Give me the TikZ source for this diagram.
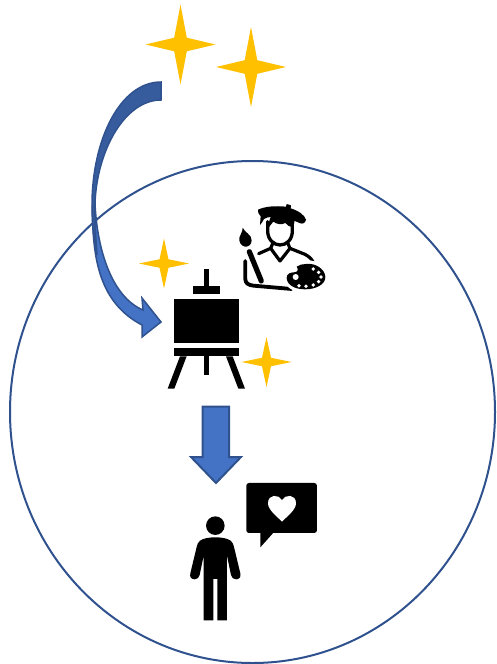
\documentclass[tikz,border=0pt]{standalone}
\definecolor{starY}{HTML}{FFC000}
\definecolor{blueF}{HTML}{4472C4}
\definecolor{blueD}{HTML}{375C9E}
\definecolor{blueL}{HTML}{2F528F}
\newcommand{\sparkleAt}[4]{\begin{scope}[shift={(#1,#2)},x=#3pt,y=#4pt]
\fill[starY] (-1,0) -- (-.18,-.17) -- (0,-1) -- (.18,-.17) -- (1,0) -- (.18,.17) -- (0,1) -- (-.18,.17) -- cycle;
\end{scope}}
\tikzset{
  arrowedge/.style={draw=blueL,line width=1.5pt,line join=miter},
  inkline/.style={draw=black,line cap=round,line join=round,fill=none},
  zoomA/.style={shift={(170,395)},x=.3333pt,y=-.3333pt},
  zoomB/.style={shift={(130,230)},x=.3333pt,y=-.3333pt},
  zoomC/.style={shift={(230,195)},x=.3333pt,y=-.3333pt}
}
\begin{document}
\begin{tikzpicture}[x=1pt,y=-1pt]
\useasboundingbox (0,0) rectangle (497,664);
% stars
\sparkleAt{180.5}{44.5}{35}{40}
\sparkleAt{251}{67}{35}{40}
\sparkleAt{164}{263.5}{25}{25}
\sparkleAt{266.5}{362}{25}{25}
% big circle
\draw[blueL,line width=2pt] (252.5,412) ellipse [x radius=242.5pt,y radius=251pt];
% curved arrow: light lower part, dark upper part
\path[fill=blueF,arrowedge]
 (92.5,205) .. controls (92,260) and (100,303) .. (142,325)
 -- (142,337) -- (161,322) -- (142,298) -- (143,310)
 .. controls (112,297) and (97,250) .. (95,203) -- cycle;
\path[fill=blueD,arrowedge]
 (161,82) .. controls (120,82) and (92,140) .. (92,205)
 .. controls (92,225) and (94,240) .. (97,255)
 .. controls (96,240) and (94.5,220) .. (95,203)
 .. controls (97,150) and (125,100) .. (161,100) -- cycle;
% easel
\begin{scope}[zoomB]
\fill[black] (221,118) rectangle (238,168);
\fill[black] (189,168) rectangle (271,191);
\fill[black] (132,208) rectangle (328,338);
\fill[black] (132,355) rectangle (328,379);
\fill[black] (221,379) rectangle (238,436);
\fill[black] (150,379) -- (170,379) -- (133,476) -- (113,476) -- cycle;
\fill[black] (288,379) -- (308,379) -- (345,476) -- (325,476) -- cycle;
\end{scope}
% down arrow
\path[fill=blueF,draw=blueL,line width=2pt,line join=miter]
 (202.5,406.5) -- (229,406.5) -- (229,457) -- (241,457) -- (216,483) -- (191,457) -- (202.5,457) -- cycle;
% person and speech bubble
\begin{scope}[zoomA]
\fill[black] (136,392) circle (9.3pt);
\fill[black] (136,427) .. controls (155,427) and (172,430) .. (182,437)
 .. controls (188,442) and (190,448) .. (192,456)
 -- (211,535) .. controls (214,547) and (207,553) .. (198,553)
 .. controls (190,553) and (185,548) .. (183,540)
 -- (171,482) -- (171,676) -- (142,676) -- (142,552) -- (130,552) -- (130,676) -- (101,676) -- (101,482)
 -- (89,540) .. controls (87,548) and (82,553) .. (74,553)
 .. controls (65,553) and (58,547) .. (61,535)
 -- (80,456) .. controls (82,448) and (84,442) .. (90,437)
 .. controls (100,430) and (117,427) .. (136,427) -- cycle;
\fill[black,rounded corners=2.7pt] (229,264) rectangle (441,414);
\fill[black] (271,410) -- (271,457) -- (313,410) -- cycle;
\fill[white] (336,315) .. controls (345,298) and (378,296) .. (378,325)
 .. controls (378,345) and (350,365) .. (336,380)
 .. controls (322,365) and (294,345) .. (294,325)
 .. controls (294,296) and (327,298) .. (336,315) -- cycle;
\end{scope}
% painter
\begin{scope}[zoomC]
% beret
\fill[black] (84,44) .. controls (105,34) and (135,32) .. (168,35)
 -- (170,27) -- (183,31) -- (182,40)
 .. controls (205,47) and (224,60) .. (228,74)
 .. controls (226,85) and (218,88) .. (208,84)
 .. controls (190,74) and (160,68) .. (130,66)
 .. controls (115,66) and (107,68) .. (102,72)
 .. controls (98,78) and (96,84) .. (90,90)
 .. controls (90,80) and (92,72) .. (92,64)
 .. controls (86,58) and (82,50) .. (84,44) -- cycle;
% face
\draw[inkline,line width=3.3pt] (113,80) -- (113,108) .. controls (113,134) and (132,150) .. (150,150)
 .. controls (170,150) and (187,134) .. (187,108) -- (187,80);
% hair
\fill[black] (110,100) .. controls (118,85) and (118,70) .. (125,62) -- (195,72) -- (190,97)
 .. controls (180,96) and (172,92) .. (166,84)
 .. controls (155,90) and (140,88) .. (130,80)
 .. controls (124,86) and (118,95) .. (112,105) -- cycle;
% collar
\draw[inkline,line width=3.2pt] (86,176) -- (122,160) -- (150,198) -- (180,160) -- (225,178) .. controls (240,186) and (248,195) .. (250,205);
\draw[inkline,line width=3.2pt] (122,160) -- (128,146);
\draw[inkline,line width=3.2pt] (180,160) -- (174,146);
% brush
\fill[black] (38,98) .. controls (44,113) and (65,118) .. (65,136)
 .. controls (65,150) and (54,156) .. (45,155)
 .. controls (34,153) and (26,142) .. (28,128)
 .. controls (30,118) and (38,112) .. (38,98) -- cycle;
\draw[inkline,line width=5.2pt] (58,170) -- (94,258);
% body
\draw[inkline,line width=3.8pt] (46,198) -- (46,252) .. controls (46,265) and (55,270) .. (70,272) -- (185,282);
% palette
\fill[white] (228,245) ellipse [x radius=23pt,y radius=16.5pt];
\fill[black] (228,207) .. controls (255,203) and (285,222) .. (286,245)
 .. controls (287,270) and (255,283) .. (225,283)
 .. controls (195,283) and (170,270) .. (170,248)
 .. controls (170,236) and (182,232) .. (192,232)
 .. controls (205,232) and (205,222) .. (200,215)
 .. controls (208,208) and (218,208) .. (228,207) -- cycle;
\fill[white] (197,246) circle (3pt);
\foreach \p in {(250,222),(266,232),(273,246),(266,260),(250,270),(228,274),(207,272)}
  \fill[white] \p circle (1.9pt);
\end{scope}
\end{tikzpicture}
\end{document}
